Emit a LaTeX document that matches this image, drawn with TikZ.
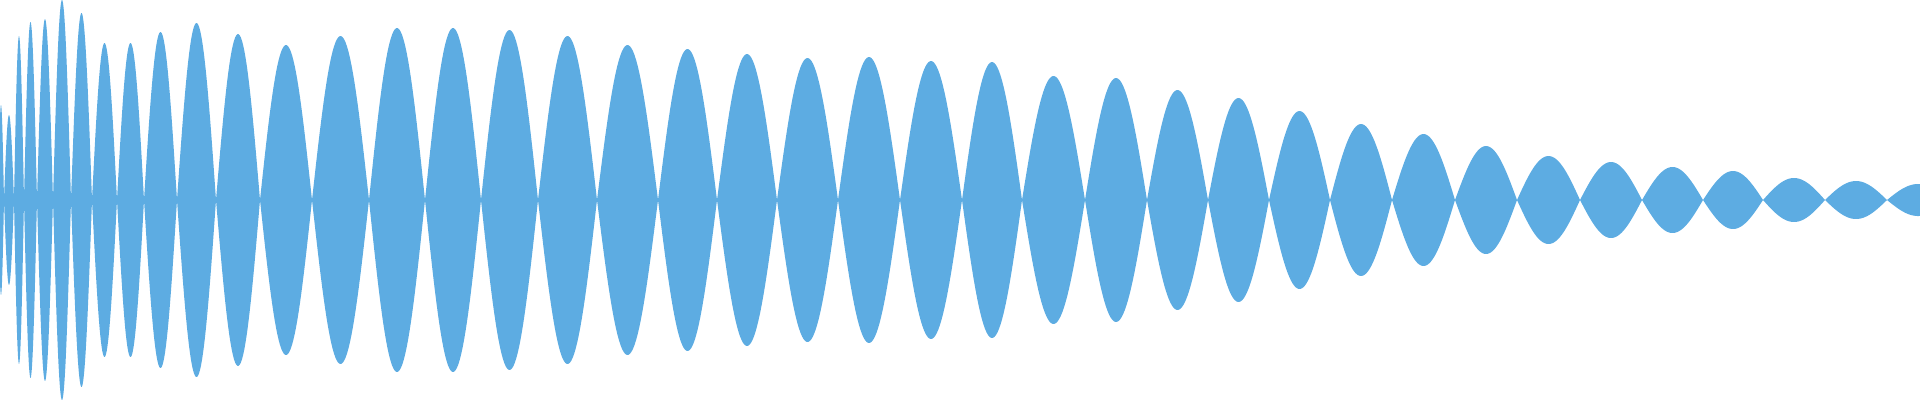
\documentclass[tikz,border=0pt]{standalone}
\definecolor{wave}{HTML}{5DACE2}
\begin{document}
\begin{tikzpicture}[lobe/.style={fill=wave}]
\useasboundingbox (0,-2) rectangle (19.2,2);
\clip (0,-2) rectangle (19.2,2);
\foreach \a/\b/\h in {-2/4/95,4/14/85,14/24/164,24/37/178,37/53/181,53/71/200,71/92/187,92/117/157,117/144/157,144/177/168,177/216/177,216/260/166,260/312/155,312/369/164,369/425/172,425/481/172,481/538/170,538/597/164,597/658/155,658/717/151,717/777/146,777/838/142,838/900/143,900/962/139,962/1022/138,1022/1085/124,1085/1147/122,1147/1208/110,1208/1269/102,1269/1330/89,1330/1392/76,1392/1455/66,1455/1517/54,1517/1580/44,1580/1642/38,1642/1703/33,1703/1763/29,1763/1825/22,1825/1887/19,1887/1949/16}{
  \fill[lobe] plot[domain=0:180,samples=40] ({(\a+(\b-\a)*\x/180)/100},{\h*sin(\x)/100})
    -- plot[domain=180:0,samples=40] ({(\a+(\b-\a)*\x/180)/100},{-\h*sin(\x)/100}) -- cycle;
}
\end{tikzpicture}
\end{document}
